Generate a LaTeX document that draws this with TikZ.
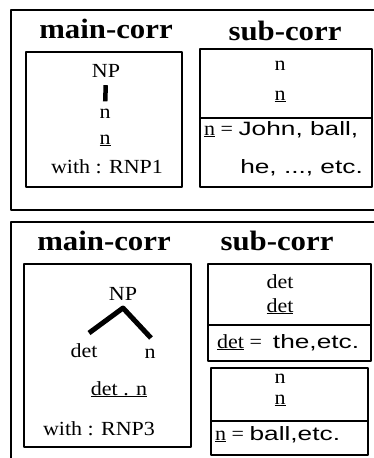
\documentclass[tikz,border=0pt]{standalone}
\usepackage{fontspec}
\setmainfont[FakeStretch=1.1]{Liberation Serif}
\newfontfamily\valfont[FakeStretch=1.36]{Liberation Sans}
\tikzset{
  frame/.style={line width=2pt},
  box/.style={line width=1.8pt},
  txt/.style={anchor=base, inner sep=0pt, font=\fontsize{20}{24}\selectfont},
  ltxt/.style={txt, anchor=base west},
  head/.style={anchor=base, inner sep=0pt, font=\fontsize{28}{32}\selectfont\bfseries},
  branch/.style={line width=5pt, line cap=butt}
}
\newcommand{\val}[1]{{\valfont\fontsize{19.3}{24}\selectfont #1}}
\begin{document}
\begin{tikzpicture}[x=1pt, y=-1pt, line join=round]
\useasboundingbox (0,0) rectangle (374,458);
\clip (0,0) rectangle (374,458);
% outer frames
\draw[frame] (11,10) rectangle (390,210);
\draw[frame] (11,222) rectangle (390,470);
% upper part
\node[head] (main1) at (106,38) {main-corr};
\node[head] (sub1) at (285,40) {sub-corr};
\draw[box] (26,52) rectangle (182,187);
\draw[box] (200,49) rectangle (372,187);
\draw[box] (200,118) -- (372,118);
\node[txt] (np1) at (106,77) {NP};
\node[txt] (n1) at (105,118) {n};
\node[txt] (un1) at (105,144) {\underline{n}};
\node[txt] (with1) at (107,173) {with : RNP1};
\draw[line width=4.5pt, shorten <=8pt, shorten >=7pt] (np1.south) -- (n1.north);
\node[txt] (sn1) at (280,70) {n};
\node[txt] (sun1) at (280,100) {\underline{n}};
\node[ltxt] (val1) at (204,135) {\underline{n} = \val{John, ball,}};
\node[txt, anchor=base east] (val1b) at (363,173) {\val{he, ..., etc.}};
% lower part
\node[head] (main2) at (104,250) {main-corr};
\node[head] (sub2) at (277,250) {sub-corr};
\draw[box] (24,264) rectangle (191,447);
\draw[box] (208,264) rectangle (371,361);
\draw[box] (208,325) -- (371,325);
\draw[box] (211,368) rectangle (368,455);
\draw[box] (211,421) -- (368,421);
\node[txt] (np2) at (123,300) {NP};
\node[txt] (det2) at (84,357) {det};
\node[txt] (n2) at (150,358) {n};
\coordinate (top) at (123,308);
\coordinate (left) at (89,333);
\coordinate (right) at (151,338);
\draw[branch] (left) -- (top) -- (right);
\node[txt] (udn2) at (119,395) {\underline{det . n}};
\node[txt] (with2) at (99,435) {with : RNP3};
\node[txt] (sdet2) at (280,288) {det};
\node[txt] (sudet2) at (280,312) {\underline{det}};
\node[ltxt] (val2) at (217,348) {\underline{det} = \ \val{the,etc.}};
\node[txt] (sn2) at (280,383) {n};
\node[txt] (sun2) at (280,404) {\underline{n}};
\node[ltxt] (val3) at (215,440) {\underline{n} = \val{ball,etc.}};
\end{tikzpicture}
\end{document}
